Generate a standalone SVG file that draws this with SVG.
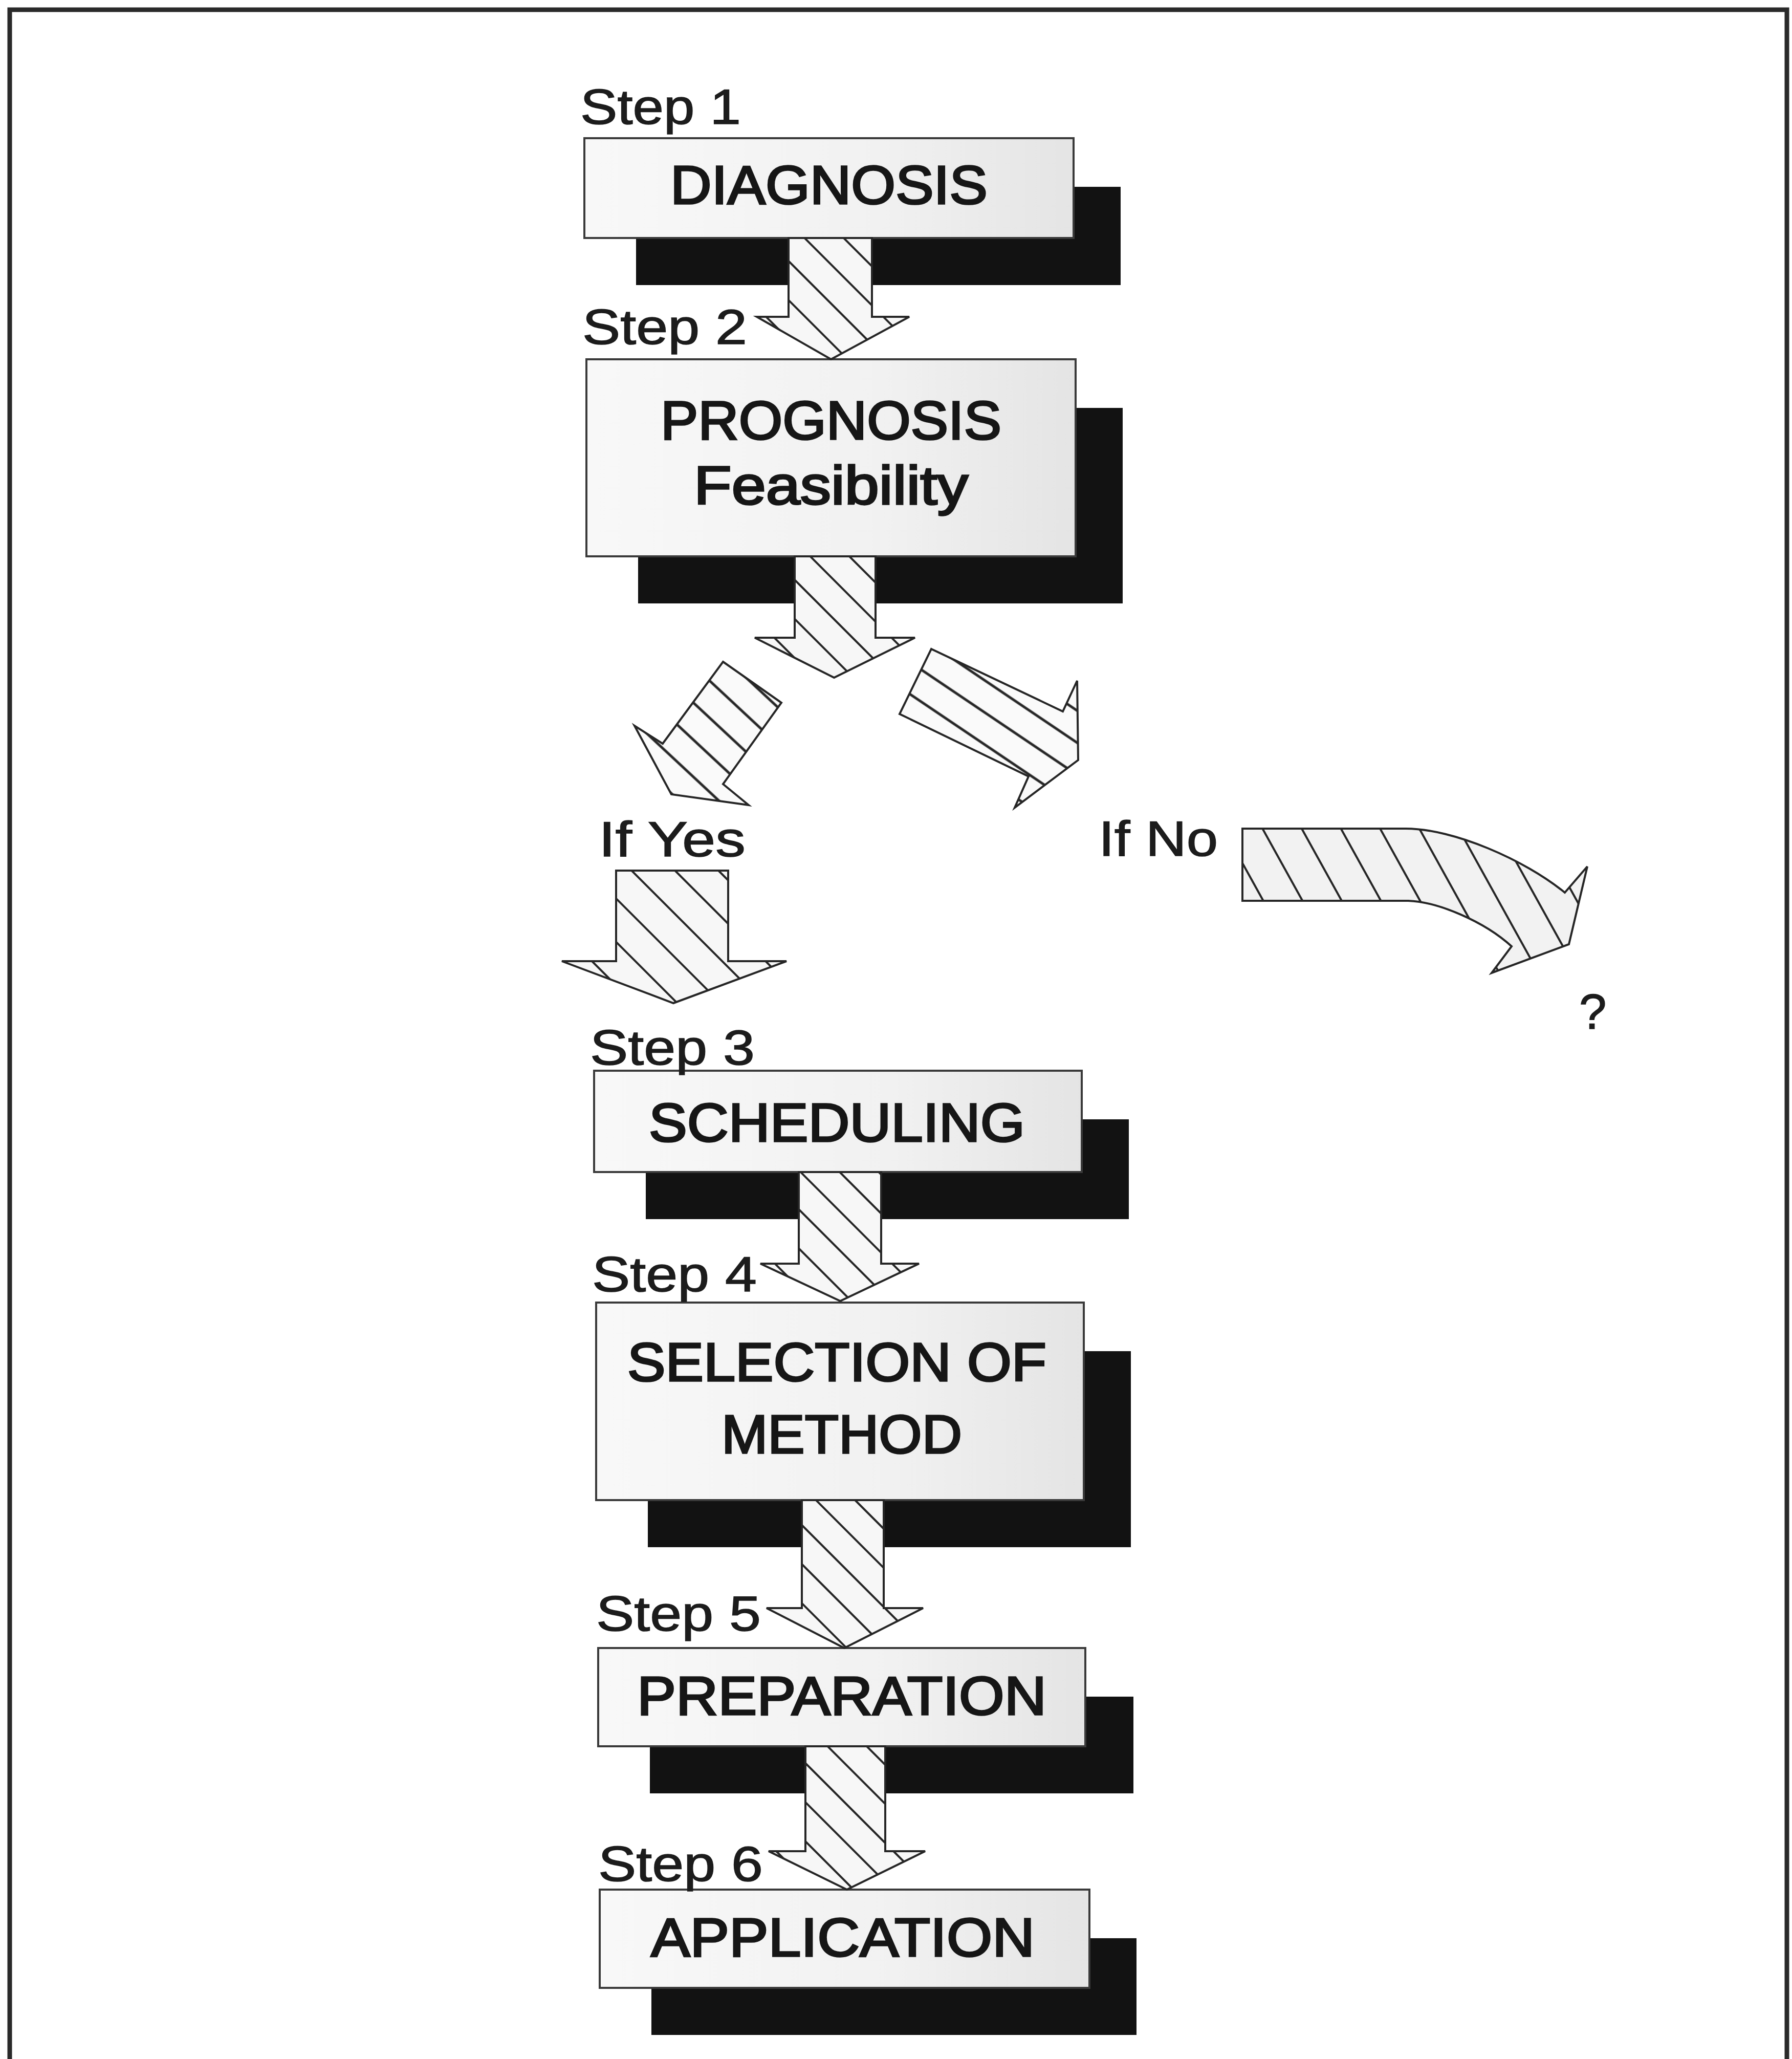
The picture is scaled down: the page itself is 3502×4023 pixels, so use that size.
<svg xmlns="http://www.w3.org/2000/svg" width="3502" height="4023" viewBox="0 0 3502 4023">
<style>
.shadow{fill:#121212}
.box{fill:url(#boxfill);stroke:#3a3a3a;stroke-width:4}
.lbl{font-family:"Liberation Sans",Arial,sans-serif;font-size:96px;fill:#1c1c1c;stroke:#1c1c1c;stroke-width:1.5}
.bt{font-family:"Liberation Sans",Arial,sans-serif;font-size:106px;fill:#161616;stroke:#161616;stroke-width:3.5}
.arw{stroke:#262626;stroke-width:4;stroke-linejoin:miter}
</style>
<defs>
<linearGradient id="boxfill" x1="0" y1="0" x2="1" y2="0">
<stop offset="0" stop-color="#f8f8f8"/>
<stop offset="0.6" stop-color="#f1f1f1"/>
<stop offset="1" stop-color="#e4e4e4"/>
</linearGradient>
<pattern id="h45" patternUnits="userSpaceOnUse" width="54" height="54" patternTransform="rotate(-45)">
<rect width="54" height="54" fill="#f7f7f7"/>
<line x1="27" y1="-2" x2="27" y2="56" stroke="#262626" stroke-width="4"/>
</pattern>
<pattern id="hyes" patternUnits="userSpaceOnUse" width="60" height="60" patternTransform="rotate(-45)">
<rect width="60" height="60" fill="#f7f7f7"/>
<line x1="30" y1="-2" x2="30" y2="62" stroke="#262626" stroke-width="4"/>
</pattern>
<pattern id="hno" patternUnits="userSpaceOnUse" width="67" height="67" patternTransform="rotate(-29)">
<rect width="67" height="67" fill="#f2f2f2"/>
<line x1="33" y1="-2" x2="33" y2="69" stroke="#262626" stroke-width="4"/>
</pattern>
<pattern id="hl" patternUnits="userSpaceOnUse" width="53" height="53" patternTransform="rotate(-47)">
<rect width="53" height="53" fill="#fafafa"/>
<line x1="26" y1="-2" x2="26" y2="55" stroke="#262626" stroke-width="5"/>
</pattern>
<pattern id="hr" patternUnits="userSpaceOnUse" width="52" height="52" patternTransform="rotate(-56)">
<rect width="52" height="52" fill="#fafafa"/>
<line x1="26" y1="-2" x2="26" y2="54" stroke="#262626" stroke-width="5"/>
</pattern>
</defs>
<rect width="3502" height="4023" fill="#ffffff"/>
<path d="M19,4023 V19 H3492 V4023" fill="none" stroke="#2a2a2a" stroke-width="9"/>

<g id="node-diagnosis">
<rect class="shadow" x="1243" y="365" width="947" height="192"/>
<rect class="box" x="1142" y="270" width="956" height="195"/>
<text class="bt" x="1310" y="398" textLength="620" lengthAdjust="spacingAndGlyphs">DIAGNOSIS</text>
<text class="lbl" x="1134" y="242" textLength="314" lengthAdjust="spacingAndGlyphs">Step 1</text>
</g>
<g id="node-prognosis">
<rect class="shadow" x="1247" y="797" width="947" height="382"/>
<rect class="box" x="1146" y="702" width="956" height="385"/>
<text class="bt" x="1291" y="858" textLength="666" lengthAdjust="spacingAndGlyphs">PROGNOSIS</text>
<text class="bt" x="1356" y="985" textLength="536" lengthAdjust="spacingAndGlyphs">Feasibility</text>
</g>
<g id="node-scheduling">
<rect class="shadow" x="1262" y="2187" width="944" height="195"/>
<rect class="box" x="1161" y="2092" width="953" height="198"/>
<text class="bt" x="1268" y="2230" textLength="735" lengthAdjust="spacingAndGlyphs">SCHEDULING</text>
</g>
<g id="node-selection">
<rect class="shadow" x="1266" y="2640" width="944" height="383"/>
<rect class="box" x="1165" y="2545" width="953" height="386"/>
<text class="bt" x="1226" y="2698" textLength="819" lengthAdjust="spacingAndGlyphs">SELECTION OF</text>
<text class="bt" x="1410" y="2839" textLength="470" lengthAdjust="spacingAndGlyphs">METHOD</text>
</g>
<g id="node-preparation">
<rect class="shadow" x="1270" y="3315" width="945" height="189"/>
<rect class="box" x="1169" y="3220" width="952" height="192"/>
<text class="bt" x="1245" y="3350" textLength="800" lengthAdjust="spacingAndGlyphs">PREPARATION</text>
</g>
<g id="node-application">
<rect class="shadow" x="1273" y="3787" width="948" height="189"/>
<rect class="box" x="1172" y="3692" width="957" height="192"/>
<text class="bt" x="1272" y="3822" textLength="750" lengthAdjust="spacingAndGlyphs">APPLICATION</text>
</g>

<g id="connectors">
<polygon class="arw" fill="url(#h45)" points="1541,465 1704,465 1704,619 1777,619 1624,702 1479,619 1541,619"/>
<polygon class="arw" fill="url(#h45)" points="1553,1087 1711,1087 1711,1246 1788,1246 1630,1324 1475,1246 1553,1246"/>
<polygon class="arw" fill="url(#hl)" points="1413,1293 1527,1373 1413,1532 1463,1573 1312,1552 1240,1418 1295,1453"/>
<polygon class="arw" fill="url(#hr)" points="1820,1268 2077,1390 2105,1330 2107,1485 1983,1578 2010,1517 1758,1395"/>
<polygon class="arw" fill="url(#hyes)" points="1204,1701 1423,1701 1423,1878 1537,1878 1316,1960 1098,1878 1204,1878"/>
<path class="arw" fill="url(#hno)" d="M2428,1619 L2747,1619 C2840,1619 2980,1680 3058,1744 L3102,1693 L3066,1845 L2915,1901 L2954,1849 C2900,1800 2810,1762 2752,1760 L2428,1760 Z"/>
<polygon class="arw" fill="url(#h45)" points="1561,2290 1722,2290 1722,2469 1796,2469 1642,2542 1486,2469 1561,2469"/>
<polygon class="arw" fill="url(#h45)" points="1567,2931 1727,2931 1727,3142 1804,3142 1650,3220 1498,3142 1567,3142"/>
<polygon class="arw" fill="url(#h45)" points="1574,3412 1730,3412 1730,3617 1808,3617 1655,3692 1502,3617 1574,3617"/>
</g>

<g id="step-labels">
<text class="lbl" x="1138" y="672" textLength="322" lengthAdjust="spacingAndGlyphs">Step 2</text>
<text class="lbl" x="1153" y="2080" textLength="322" lengthAdjust="spacingAndGlyphs">Step 3</text>
<text class="lbl" x="1157" y="2523" textLength="322" lengthAdjust="spacingAndGlyphs">Step 4</text>
<text class="lbl" x="1165" y="3186" textLength="322" lengthAdjust="spacingAndGlyphs">Step 5</text>
<text class="lbl" x="1169" y="3675" textLength="322" lengthAdjust="spacingAndGlyphs">Step 6</text>
</g>
<g id="branch-labels">
<text class="lbl" x="1170" y="1673" textLength="287" lengthAdjust="spacingAndGlyphs">If Yes</text>
<text class="lbl" x="2147" y="1672" textLength="233" lengthAdjust="spacingAndGlyphs">If No</text>
<text class="lbl" x="3086" y="2010">?</text>
</g>
</svg>
